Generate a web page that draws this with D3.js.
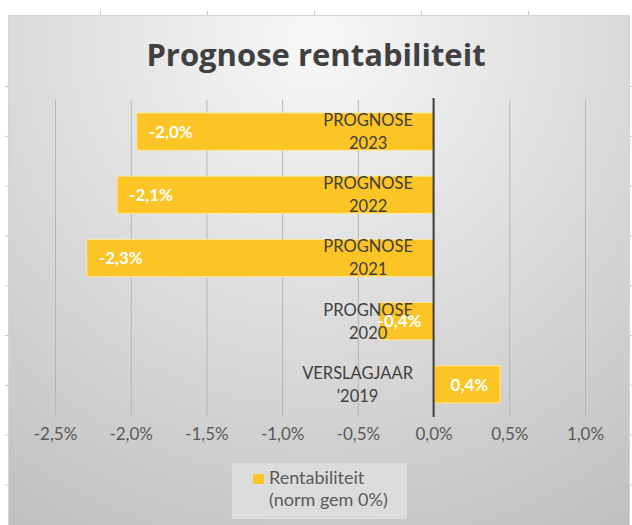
<!DOCTYPE html>
<html>
<head>
<meta charset="utf-8">
<script src="https://cdn.jsdelivr.net/npm/d3@7"></script>
<style>
  body { margin: 0; background: #fff; }
  svg { display: block; font-family: Lato, "Open Sans", sans-serif; }
</style>
</head>
<body>
<div id="chart"></div>
<script>
// chart data
var categories = ["PROGNOSE 2023", "PROGNOSE 2022", "PROGNOSE 2021", "PROGNOSE 2020", "VERSLAGJAAR '2019"];
var categoryLines = [["PROGNOSE", "2023"], ["PROGNOSE", "2022"], ["PROGNOSE", "2021"], ["PROGNOSE", "2020"], ["VERSLAGJAAR", "'2019"]];
var values = [-1.96, -2.09, -2.29, -0.36, 0.44];
var xTicks = [-2.5, -2.0, -1.5, -1.0, -0.5, 0.0, 0.5, 1.0];
var titleText = "Prognose rentabiliteit";
var legendLines = ["Rentabiliteit", "(norm gem 0%)"];

var svgSize = {width: 632, height: 525};
var plot = {left: 55, right: 585, top: 100, bottom: 416};
var barColor = '#fcc424';

var fmt = function(d) { return d.toFixed(1).replace('.', ',') + '%'; };

var svg = d3.select('#chart').append('svg')
    .attr('width', svgSize.width)
    .attr('height', svgSize.height);

var defs = svg.append('defs');
var grad = defs.append('radialGradient')
    .attr('id', 'bg')
    .attr('gradientUnits', 'userSpaceOnUse')
    .attr('cx', 316).attr('cy', 40).attr('r', 570);
grad.append('stop').attr('offset', 0).attr('stop-color', '#f8f8f8');
grad.append('stop').attr('offset', 1).attr('stop-color', '#c0c0c0');

// little ticks of the sheet behind the chart
var deco = svg.append('g').attr('stroke', '#c9c9c9').attr('stroke-width', 1);
d3.range(100, 632, 107).forEach(function(x) {
    deco.append('line').attr('x1', x + 0.5).attr('x2', x + 0.5).attr('y1', 11).attr('y2', 15);
});
d3.range(86.5, 525, 49.8).forEach(function(y) {
    deco.append('line').attr('x1', 5).attr('x2', 8).attr('y1', y).attr('y2', y);
    deco.append('line').attr('x1', 630).attr('x2', 632).attr('y1', y).attr('y2', y);
});

// chart area
svg.append('rect')
    .attr('x', 8.5).attr('y', 15.5)
    .attr('width', 621).attr('height', 520)
    .attr('fill', 'url(#bg)')
    .attr('stroke', '#d4d4d4');

var x = d3.scaleLinear()
    .domain([-2.5, 1.0])
    .range([plot.left, plot.right]);

var y = d3.scaleBand()
    .domain(categories)
    .range([plot.top, plot.bottom])
    .paddingInner(0.41)
    .paddingOuter(0.205);

// gridlines + tick labels
var xAxis = d3.axisBottom(x)
    .tickValues(xTicks)
    .tickFormat(fmt)
    .tickSize(-(plot.bottom - plot.top))
    .tickPadding(12);

var gx = svg.append('g')
    .attr('transform', 'translate(0,' + plot.bottom + ')')
    .call(xAxis);
gx.select('.domain').remove();
gx.selectAll('.tick line').attr('stroke', '#b5b5b5').attr('stroke-width', 1);
gx.selectAll('.tick text')
    .attr('fill', '#595959')
    .style('font-size', '17px')
    .style('font-family', 'Lato, sans-serif');

// bars
var data = categories.map(function(c, i) { return {cat: c, value: values[i], lines: categoryLines[i]}; });

svg.append('g').selectAll('rect')
    .data(data)
    .enter()
    .append('rect')
    .attr('x', function(d) { return x(Math.min(0, d.value)); })
    .attr('y', function(d) { return y(d.cat); })
    .attr('width', function(d) { return Math.abs(x(d.value) - x(0)); })
    .attr('height', y.bandwidth())
    .attr('fill', barColor)
    .attr('stroke', '#fde7a0')
    .attr('stroke-width', 1);

// zero axis
svg.append('line')
    .attr('x1', x(0)).attr('x2', x(0))
    .attr('y1', plot.top - 2).attr('y2', plot.bottom + 1)
    .attr('stroke', '#404040')
    .attr('stroke-width', 2);

// category labels (block right-aligned, lines centered)
var catG = svg.append('g');
data.forEach(function(d) {
    var g = catG.append('g');
    var cy = y(d.cat) + y.bandwidth() / 2;
    var texts = d.lines.map(function(line, k) {
        return g.append('text')
            .attr('y', cy + (k === 0 ? -11.5 : 11.5))
            .attr('dy', '0.36em')
            .attr('text-anchor', 'middle')
            .attr('fill', '#404040')
            .style('font-size', '16.5px')
            .text(line);
    });
    var w = d3.max(texts, function(t) { return t.node().getComputedTextLength(); });
    texts.forEach(function(t) { t.attr('x', 413 - w / 2); });
});

// value labels
var labG = svg.append('g');
data.forEach(function(d) {
    var cy = y(d.cat) + y.bandwidth() / 2;
    var t = labG.append('text')
        .attr('y', cy)
        .attr('dy', '0.36em')
        .attr('fill', '#ffffff')
        .style('font-size', '17px')
        .style('font-weight', 'bold')
        .text(fmt(d.value));
    var w = t.node().getComputedTextLength();
    var pad = 12;
    if (d.value < 0) {
        var sx = x(d.value) + pad;
        if (sx + w > x(0) - pad) sx = x(0) - pad - w;
        t.attr('x', sx);
    } else {
        var ex = x(d.value) - pad;
        if (ex - w < x(0) + pad) ex = x(0) + pad + w;
        t.attr('x', ex - w);
    }
});

// title, sized to the reference width
var title = svg.append('text')
    .attr('x', svgSize.width / 2)
    .attr('y', 66)
    .attr('text-anchor', 'middle')
    .attr('fill', '#404040')
    .style('font-family', '"Open Sans", sans-serif')
    .style('font-size', '28px')
    .style('font-weight', 'bold')
    .text(titleText);
var tw = title.node().getComputedTextLength();
title.style('font-size', Math.min(31, 28 * 358 / tw) + 'px');

// legend
var lg = svg.append('g');
lg.append('rect')
    .attr('x', 232).attr('y', 463)
    .attr('width', 175).attr('height', 56)
    .attr('fill', '#dcdcdc');
lg.append('rect')
    .attr('x', 253).attr('y', 474)
    .attr('width', 11).attr('height', 10)
    .attr('fill', barColor);
legendLines.forEach(function(s, i) {
    lg.append('text')
        .attr('x', 269)
        .attr('y', 484 + i * 21.5)
        .attr('fill', '#595959')
        .style('font-size', '18px')
        .text(s);
});
</script>
</body>
</html>
